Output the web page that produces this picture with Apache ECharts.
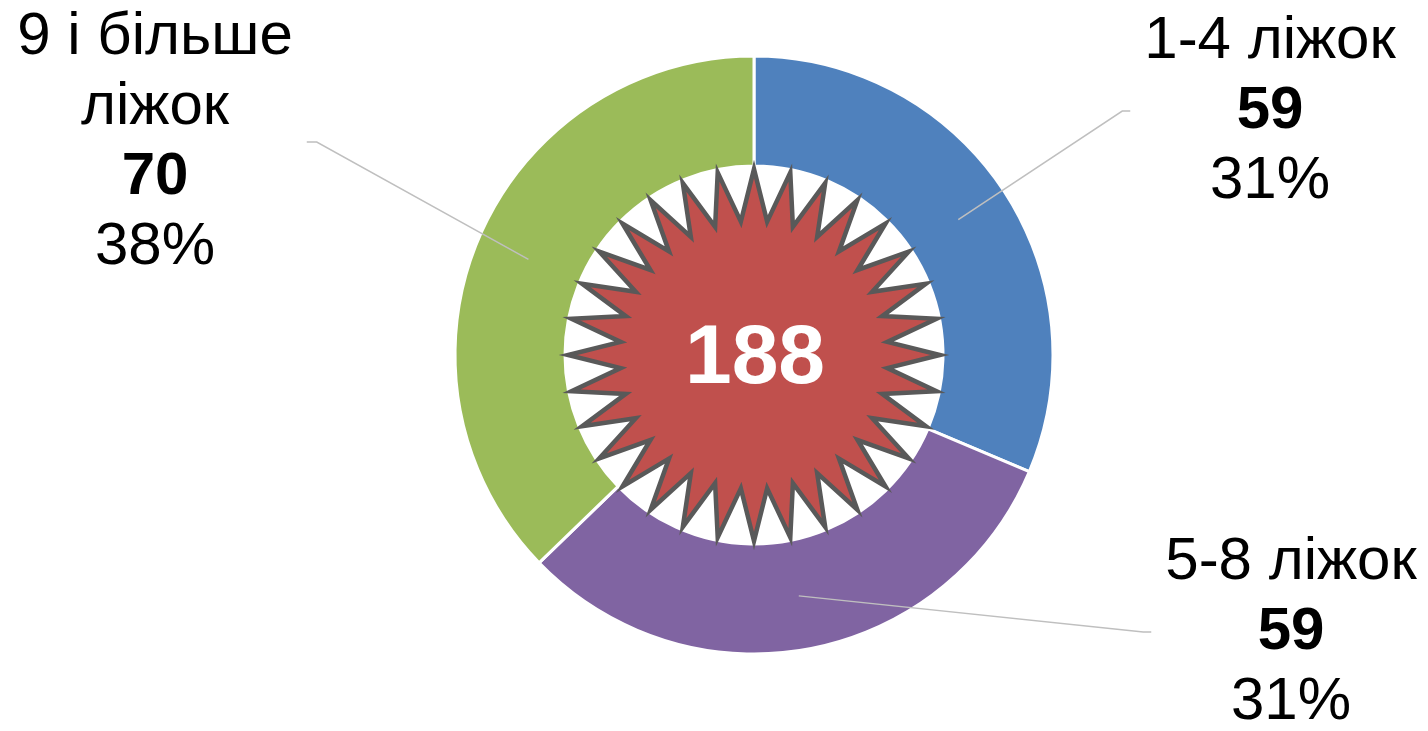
<!DOCTYPE html>
<html>
<head>
<meta charset="utf-8">
<script src="https://cdn.jsdelivr.net/npm/echarts@6/dist/echarts.min.js"></script>
<style>
  html, body { margin: 0; padding: 0; background: #fff; }
  #chart { width: 1428px; height: 731px; }
</style>
</head>
<body>
<div id="chart"></div>
<script>
var categories = ['1-4 ліжок', '5-8 ліжок', '9 і більше\nліжок'];
var values = [59, 59, 70];
var percentLabels = ['31%', '31%', '38%'];
var colors = ['#4F81BD', '#8064A2', '#9BBB59'];

// label centres (layout only)
var labelPos = [[1270, 111], [1291, 632], [155, 142]];

var cx = 754, cy = 355;
var font = "'Liberation Sans', Arial, sans-serif";
var total = values.reduce(function (a, b) { return a + b; }, 0);

// 32-point star in the middle
var starPts = [];
for (var i = 0; i < 64; i++) {
  var a = -Math.PI / 2 + i * Math.PI / 32;
  var r = i % 2 === 0 ? 186 : 134;
  starPts.push([cx + r * Math.cos(a), cy + r * Math.sin(a)]);
}

var data = categories.map(function (c, i) {
  return { name: c, value: values[i], itemStyle: { color: colors[i] } };
});

var chart = echarts.init(document.getElementById('chart'));
chart.setOption({
  animation: false,
  backgroundColor: '#fff',
  graphic: [
    {
      type: 'polygon',
      z: 10,
      shape: { points: starPts },
      style: { fill: '#C0504D', stroke: '#595959', lineWidth: 4.5, lineJoin: 'miter' }
    },
    {
      type: 'text',
      z: 11,
      x: cx + 1,
      y: cy + 5,
      style: {
        text: String(total),
        fill: '#fff',
        font: 'bold 84px ' + font,
        align: 'center',
        verticalAlign: 'middle'
      }
    }
  ],
  series: [
    {
      type: 'pie',
      z: 2,
      center: [cx, cy],
      radius: [189, 299],
      startAngle: 90,
      clockwise: true,
      silent: true,
      itemStyle: { borderColor: '#fff', borderWidth: 3 },
      label: { show: false },
      labelLine: { show: false },
      data: data
    },
    {
      // transparent helper ring that carries the labels and leader lines
      type: 'pie',
      z: 5,
      center: [cx, cy],
      radius: [0, 245],
      startAngle: 90,
      clockwise: true,
      silent: true,
      itemStyle: { color: 'rgba(0,0,0,0)' },
      label: {
        show: true,
        position: 'outside',
        formatter: function (p) {
          return '{n|' + p.name + '}\n{v|' + p.value + '}\n{p|' + percentLabels[p.dataIndex] + '}';
        },
        rich: {
          n: { fontSize: 60, lineHeight: 70, color: '#000', fontFamily: font, align: 'center' },
          v: { fontSize: 60, lineHeight: 70, color: '#000', fontFamily: font, fontWeight: 'bold', align: 'center' },
          p: { fontSize: 60, lineHeight: 70, color: '#000', fontFamily: font, align: 'center' }
        }
      },
      labelLine: {
        show: true,
        length: 30,
        length2: 10,
        lineStyle: { color: '#BFBFBF', width: 1.5 }
      },
      labelLayout: function (p) {
        var pos = labelPos[p.dataIndex];
        var w = p.labelRect.width;
        var right = pos[0] > cx;
        var edge = right ? pos[0] - w / 2 - 14 : pos[0] + w / 2 + 14;
        var elbow = right ? edge - 8 : edge + 10;
        var start = p.labelLinePoints ? p.labelLinePoints[0] : [edge, pos[1]];
        return {
          x: pos[0],
          y: pos[1],
          align: 'center',
          verticalAlign: 'middle',
          labelLinePoints: [start, [elbow, pos[1]], [edge, pos[1]]]
        };
      },
      data: data.map(function (d) { return { name: d.name, value: d.value }; })
    }
  ]
});
window.addEventListener('resize', function () {
  chart.resize();
});
</script>
</body>
</html>
